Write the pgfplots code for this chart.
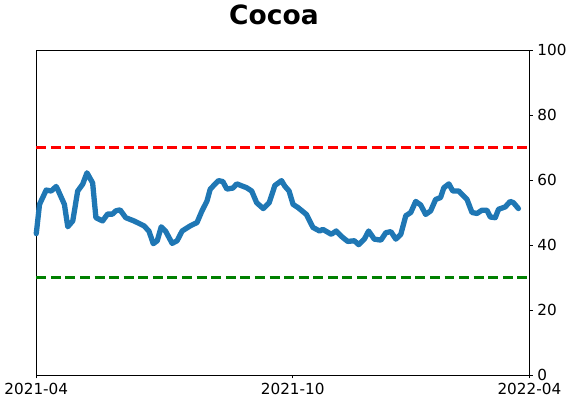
\documentclass[border=0pt]{standalone}
\usepackage{fontspec}
\setmainfont{DejaVu Sans}
\usepackage{pgfplots}
\pgfplotsset{compat=1.18}

\definecolor{mplblue}{HTML}{1F77B4}
\definecolor{mplred}{HTML}{FF0000}
\definecolor{mplgreen}{HTML}{008000}

\begin{document}
\begin{tikzpicture}
\begin{axis}[
  scale only axis,
  width=372pt, height=245.25pt,
  xmin=0, xmax=496,
  ymin=0, ymax=100,
  xtick={0,258,496},
  xticklabels={2021-04,2021-10,2022-04},
  ytick={0,20,...,100},
  xtick pos=bottom,
  ytick pos=right,
  yticklabel pos=right,
  tick align=outside,
  major tick length=2.6pt,
  tick style={black, line width=0.6pt},
  axis line style={black, line width=0.6pt},
  ticklabel style={font=\fontsize{11.5}{13}\selectfont},
  /pgf/number format/assume math mode=true,
  clip=false,
]
\addplot[mplred, line width=2pt, dash pattern=on 7.5pt off 3.5pt]
  coordinates {(0,70) (496,70)};
\addplot[mplgreen, line width=2pt, dash pattern=on 7.5pt off 3.5pt]
  coordinates {(0,30) (496,30)};
\addplot[mplblue, line width=4pt, line join=round, line cap=round]
  coordinates {
  (0,43.5) (3.3,52.5) (10,56.9) (15,56.6) (20,58) (21.7,57)
  (28.3,52.5) (31.7,45.6) (36.7,47.4) (41.7,56.6) (46.7,58.7) (51,62.2)
  (56.7,59.1) (60,48.4) (66.7,47.4) (71.7,49.5) (76.7,49.5) (80,50.5)
  (84.3,50.8) (90,48.4) (98.3,47.4) (108.3,45.9) (113.3,44.3) (117.7,40.4)
  (121.7,41.3) (125.7,45.6) (130,44.3) (136.7,40.5) (141.7,41.3) (146.7,44.3)
  (155,45.9) (161.7,46.9) (166.7,50.5) (171.7,53.5) (175,57.2) (183.3,59.8)
  (187.7,59.5) (191.7,57.2) (197.7,57.5) (201.7,58.8) (211.7,57.6) (216.7,56.6)
  (221.7,53) (228.3,51.2) (234.3,53) (240,58.3) (246.7,59.8) (250,58.1)
  (254.3,56.6) (258.3,52.5) (263.3,51.5) (271.7,49.4) (278.3,45.4) (285,44.3)
  (288.3,44.8) (296.7,43.3) (301.7,44.3) (308.3,42.3) (313.3,41.1) (320,41.3)
  (324.3,40.1) (330,41.8) (334.3,44.3) (340,41.8) (346.7,41.5) (351.7,43.8)
  (356.7,44.1) (361.7,41.8) (366.7,43.3) (371.7,49.0) (376.7,50) (381.7,53.4)
  (386.7,52.3) (391.7,49.4) (396.7,50.5) (401.7,54) (406.7,54.6) (410,57.6)
  (415,58.8) (419,56.6) (425,56.6) (433.3,54) (438.3,50) (443.3,49.7)
  (448.3,50.7) (453.3,50.7) (456.7,48.6) (461.7,48.4) (465,51) (471.7,51.7)
  (476.7,53.4) (480,53) (485,51.2)
  };
\node[anchor=base, font=\fontsize{20}{24}\selectfont\bfseries]
  at ([yshift=19.5pt]rel axis cs:0.482,1) {Cocoa};
\end{axis}
\path[use as bounding box]
  ([xshift=-26.25pt,yshift=-20.25pt]current axis.south west)
  rectangle ([xshift=30pt,yshift=36pt]current axis.north east);
\end{tikzpicture}
\end{document}
